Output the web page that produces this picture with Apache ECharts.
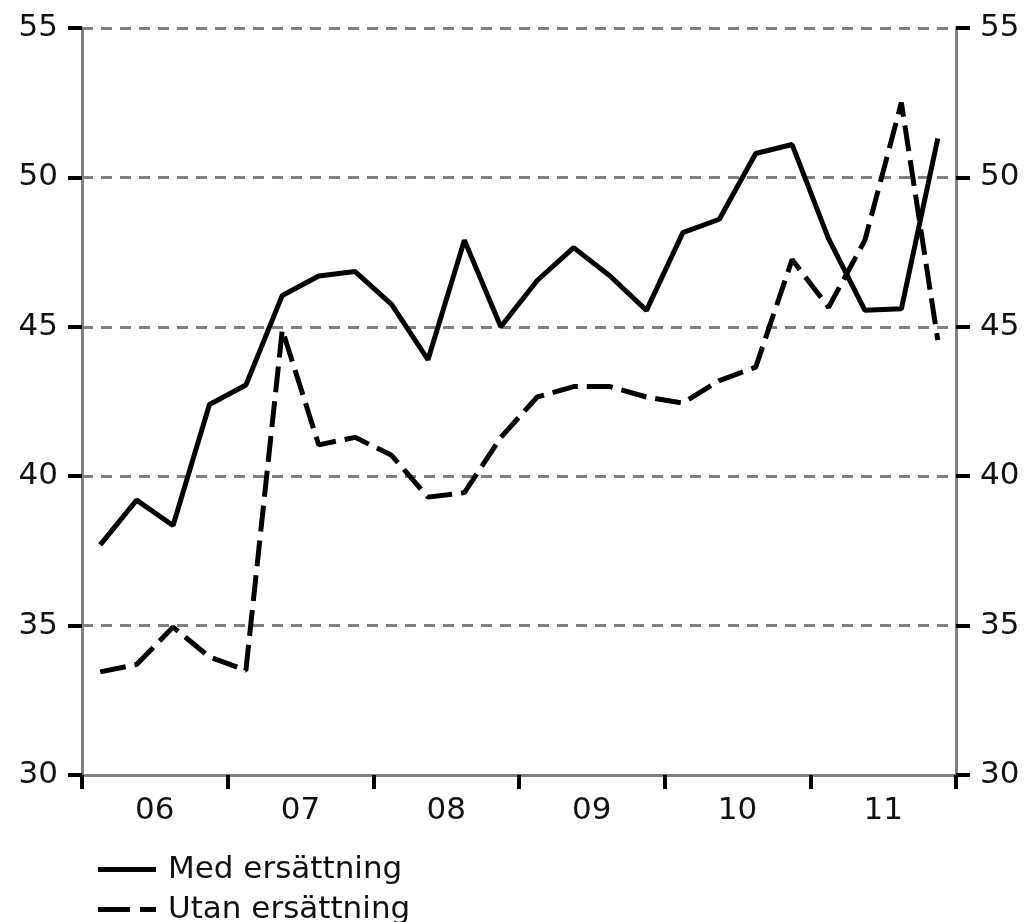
<!DOCTYPE html>
<html>
<head>
<meta charset="utf-8">
<script src="https://cdn.jsdelivr.net/npm/echarts@6/dist/echarts.min.js"></script>
<style>
html,body{margin:0;padding:0;background:#fff;}
#chart{width:1028px;height:922px;}
</style>
</head>
<body>
<div id="chart"></div>
<script>
var quarters = ["06Q1","06Q2","06Q3","06Q4","07Q1","07Q2","07Q3","07Q4","08Q1","08Q2","08Q3","08Q4","09Q1","09Q2","09Q3","09Q4","10Q1","10Q2","10Q3","10Q4","11Q1","11Q2","11Q3","11Q4"];
var years = ["06","07","08","09","10","11"];
var medErsattning = [37.7,39.2,38.35,42.4,43.05,46.05,46.7,46.85,45.75,43.9,47.9,45.0,46.55,47.65,46.7,45.55,48.15,48.6,50.8,51.1,47.95,45.55,45.6,51.3];
var utanErsattning = [33.45,33.7,34.95,33.95,33.5,44.9,41.05,41.3,40.7,39.3,39.45,41.3,42.65,43.0,43.0,42.65,42.45,43.2,43.65,47.25,45.65,47.9,52.5,44.55];
var yTicks = {min:30, max:55, interval:5};
var seriesNames = ["Med ersättning","Utan ersättning"];

var font = "DejaVu Sans";
var chart = echarts.init(document.getElementById('chart'), null, {renderer:'canvas'});
var yAxisCommon = function(pos){
  return {
    type:'value', position:pos, min:yTicks.min, max:yTicks.max, interval:yTicks.interval,
    axisLine:{show:true, lineStyle:{color:'#808080', width:3}},
    axisTick:{show:true, length:14, lineStyle:{color:'#000', width:4}},
    axisLabel:{show:true, margin:24, color:'#111', fontFamily:font, fontSize:31},
    splitLine:{show: pos==='left', lineStyle:{color:'#808080', width:3, type:[11,8]}}
  };
};
var legendCommon = function(name, icon, top){
  return {
    orient:'horizontal', left:93, top:top, itemWidth:58, itemHeight:5,
    icon:icon,
    itemStyle:{color:'#000'},
    textStyle:{fontFamily:font, fontSize:31, color:'#111', padding:[0,0,0,7]},
    data:[name]
  };
};
chart.setOption({
  animation:false,
  backgroundColor:'#fff',
  grid:{left:82, right:72, top:28, bottom:147, containLabel:false},
  legend:[
    legendCommon(seriesNames[0], 'path://M0,0L58,0L58,5L0,5Z', 849),
    legendCommon(seriesNames[1], 'path://M0,0L32,0L32,5L0,5Z M42,0L58,0L58,5L42,5Z', 889)
  ],
  xAxis:[
    {type:'category', data:quarters, boundaryGap:true, show:false},
    {type:'category', data:years, boundaryGap:true, position:'bottom',
     axisLine:{show:true, lineStyle:{color:'#808080', width:3}},
     axisTick:{show:true, length:14, lineStyle:{color:'#000', width:4}},
     axisLabel:{margin:20, color:'#111', fontFamily:font, fontSize:31},
     splitLine:{show:false}}
  ],
  yAxis:[yAxisCommon('left'), yAxisCommon('right')],
  series:[
    {name:seriesNames[0], type:'line', xAxisIndex:0, yAxisIndex:0, data:medErsattning, symbol:'none',
     lineStyle:{color:'#000', width:5, type:'solid'}, itemStyle:{color:'#000'}, z:3},
    {name:seriesNames[1], type:'line', xAxisIndex:0, yAxisIndex:0, data:utanErsattning, symbol:'none',
     lineStyle:{color:'#000', width:5, type:[26,9]}, itemStyle:{color:'#000'}, z:3}
  ]
});
</script>
</body>
</html>
